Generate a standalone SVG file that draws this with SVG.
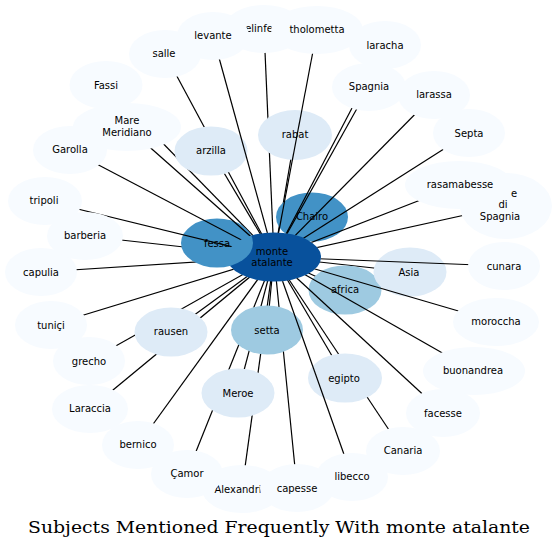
<svg xmlns="http://www.w3.org/2000/svg" width="558" height="549" viewBox="0 0 558 549">
<style>
.n0{fill:#08519c}.n1{fill:#4292c6}.n2{fill:#9ecae1}.n3{fill:#deebf7}.n4{fill:#f7fbff}
text{font-family:"DejaVu Sans","Liberation Sans",sans-serif;font-size:10px;text-anchor:middle;fill:#000}
.e line{stroke:#000;stroke-width:1.2}
.title{font-family:"DejaVu Serif","Liberation Serif",serif;font-size:17.5px}
</style>
<defs>
<mask id="m" maskUnits="userSpaceOnUse" x="0" y="0" width="558" height="549">
<rect width="558" height="549" fill="#fff"/>
<g fill="#000">
<ellipse cx="274" cy="257" rx="47" ry="24.5"/>
<ellipse cx="106" cy="85" rx="36.5" ry="24"/><ellipse cx="165" cy="54" rx="36" ry="24"/>
<ellipse cx="213" cy="36" rx="36" ry="24"/><ellipse cx="264" cy="29" rx="40" ry="24"/>
<ellipse cx="317" cy="30" rx="46" ry="24"/><ellipse cx="385" cy="45" rx="36" ry="24"/>
<ellipse cx="369" cy="87" rx="37" ry="24"/><ellipse cx="434" cy="95" rx="36" ry="24"/>
<ellipse cx="469" cy="133" rx="36" ry="24"/><ellipse cx="459" cy="185" rx="54" ry="24"/>
<ellipse cx="506" cy="206" rx="46" ry="33"/><ellipse cx="504" cy="266" rx="36" ry="24"/>
<ellipse cx="496" cy="322" rx="43" ry="24"/><ellipse cx="474" cy="371" rx="51" ry="24"/>
<ellipse cx="443" cy="413" rx="37" ry="24"/><ellipse cx="403" cy="451" rx="37" ry="24"/>
<ellipse cx="352" cy="477" rx="36" ry="24"/><ellipse cx="297" cy="488" rx="37" ry="24"/>
<ellipse cx="242" cy="489" rx="40" ry="24"/><ellipse cx="187" cy="474" rx="36" ry="24"/>
<ellipse cx="138" cy="445" rx="36" ry="24"/><ellipse cx="90" cy="409" rx="38" ry="24"/>
<ellipse cx="89" cy="361" rx="36" ry="24"/><ellipse cx="51" cy="325" rx="36" ry="24"/>
<ellipse cx="41" cy="272" rx="36" ry="24"/><ellipse cx="85" cy="236" rx="38" ry="24"/>
<ellipse cx="45" cy="201" rx="37" ry="24"/><ellipse cx="70" cy="150" rx="37" ry="24"/>
<ellipse cx="127" cy="127" rx="54" ry="24"/>
</g>
</mask>
</defs>
<rect width="558" height="549" fill="#fff"/>
<g id="connectors-under" class="e">
<line x1="274" y1="257" x2="217" y2="243"/><line x1="274" y1="257" x2="312" y2="217"/>
<line x1="274" y1="257" x2="345" y2="290"/><line x1="274" y1="257" x2="410" y2="272"/>
<line x1="274" y1="257" x2="267" y2="330"/><line x1="274" y1="257" x2="171" y2="332"/>
<line x1="274" y1="257" x2="238" y2="393"/><line x1="274" y1="257" x2="345" y2="378"/>
<line x1="274" y1="257" x2="211" y2="151"/><line x1="274" y1="257" x2="295" y2="135"/>
<line x1="274" y1="257" x2="165" y2="54"/><line x1="274" y1="257" x2="264" y2="29"/>
<line x1="274" y1="257" x2="89" y2="361"/><line x1="274" y1="257" x2="90" y2="409"/>
<line x1="274" y1="257" x2="403" y2="451"/><line x1="274" y1="257" x2="106" y2="85"/>
<line x1="274" y1="257" x2="85" y2="236"/><line x1="274" y1="257" x2="41" y2="272"/>
<line x1="274" y1="257" x2="242" y2="489"/><line x1="274" y1="257" x2="187" y2="474"/>
<line x1="274" y1="257" x2="297" y2="488"/>
</g>
<g id="n-elinfe"><ellipse class="n4" cx="264" cy="29" rx="40" ry="24"/><text x="259" y="32">elinfe</text></g>
<g id="n-levante"><ellipse class="n4" cx="213" cy="36" rx="36" ry="24"/><text x="213" y="38.5">levante</text></g>
<g id="n-tholometta"><ellipse class="n4" cx="317" cy="30" rx="46" ry="24"/><text x="317" y="32.5">tholometta</text></g>
<g id="n-salle"><ellipse class="n4" cx="165" cy="54" rx="36" ry="24"/><text x="164" y="57">salle</text></g>
<g id="n-Fassi"><ellipse class="n4" cx="106" cy="85" rx="36.5" ry="24"/><text x="106" y="88.5">Fassi</text></g>
<g id="n-laracha"><ellipse class="n4" cx="385" cy="45" rx="36" ry="24"/><text x="385" y="48.5">laracha</text></g>
<g id="n-Spagnia"><ellipse class="n4" cx="369" cy="87" rx="37" ry="24"/><text x="369" y="89.5">Spagnia</text></g>
<g id="n-larassa"><ellipse class="n4" cx="434" cy="95" rx="36" ry="24"/><text x="434" y="97.5">larassa</text></g>
<g id="n-Septa"><ellipse class="n4" cx="469" cy="133" rx="36" ry="24"/><text x="469" y="136.5">Septa</text></g>
<g id="n-e-di-Spagnia"><ellipse class="n4" cx="506" cy="206" rx="46" ry="33"/><text x="514" y="196.5">e</text><text x="503" y="207.5">di</text><text x="500" y="219.5">Spagnia</text></g>
<g id="n-rasamabesse"><ellipse class="n4" cx="459" cy="185" rx="54" ry="24"/><text x="460" y="187.5">rasamabesse</text></g>
<g id="n-cunara"><ellipse class="n4" cx="504" cy="266" rx="36" ry="24"/><text x="504" y="269.5">cunara</text></g>
<g id="n-morroccha"><ellipse class="n4" cx="496" cy="322" rx="43" ry="24"/><text x="496" y="324.5">moroccha</text></g>
<g id="n-buonandrea"><ellipse class="n4" cx="474" cy="371" rx="51" ry="24"/><text x="473" y="373.5">buonandrea</text></g>
<g id="n-facesse"><ellipse class="n4" cx="443" cy="413" rx="37" ry="24"/><text x="443" y="416.5">facesse</text></g>
<g id="n-Canaria"><ellipse class="n4" cx="403" cy="451" rx="37" ry="24"/><text x="403" y="453.5">Canaria</text></g>
<g id="n-Alexandri"><ellipse class="n4" cx="242" cy="489" rx="40" ry="24"/><text x="238" y="492.5">Alexandri</text></g>
<g id="n-capesse"><ellipse class="n4" cx="297" cy="488" rx="37" ry="24"/><text x="297" y="491.5">capesse</text></g>
<g id="n-libecco"><ellipse class="n4" cx="352" cy="477" rx="36" ry="24"/><text x="352" y="479.5">libecco</text></g>
<g id="n-Camor"><ellipse class="n4" cx="187" cy="474" rx="36" ry="24"/><text x="187" y="476.5">Çamor</text></g>
<g id="n-bernico"><ellipse class="n4" cx="138" cy="445" rx="36" ry="24"/><text x="138" y="447.5">bernico</text></g>
<g id="n-Laraccia"><ellipse class="n4" cx="90" cy="409" rx="38" ry="24"/><text x="90" y="411.5">Laraccia</text></g>
<g id="n-grecho"><ellipse class="n4" cx="89" cy="361" rx="36" ry="24"/><text x="89" y="364.5">grecho</text></g>
<g id="n-tunici"><ellipse class="n4" cx="51" cy="325" rx="36" ry="24"/><text x="51" y="328.5">tuniçi</text></g>
<g id="n-capulia"><ellipse class="n4" cx="41" cy="272" rx="36" ry="24"/><text x="41" y="275.5">capulia</text></g>
<g id="n-barberia"><ellipse class="n4" cx="85" cy="236" rx="38" ry="24"/><text x="85" y="238.5">barberia</text></g>
<g id="n-tripoli"><ellipse class="n4" cx="45" cy="201" rx="37" ry="24"/><text x="44" y="203.5">tripoli</text></g>
<g id="n-Garolla"><ellipse class="n4" cx="70" cy="150" rx="37" ry="24"/><text x="70" y="152.5">Garolla</text></g>
<g id="n-Mare-Meridiano"><ellipse class="n4" cx="127" cy="127" rx="54" ry="24"/><text x="127" y="124">Mare</text><text x="127" y="135.5">Meridiano</text></g>
<g id="n-arzilla"><ellipse class="n3" cx="211" cy="151" rx="36.5" ry="24.5"/><text x="211" y="153.5">arzilla</text></g>
<g id="n-rabat"><ellipse class="n3" cx="295" cy="135" rx="37" ry="25"/><text x="295" y="137.5">rabat</text></g>
<g id="n-Chairo"><ellipse class="n1" cx="312" cy="217" rx="36" ry="24.5"/><text x="312" y="219.5">Chairo</text></g>
<g id="n-monte-atalante"><ellipse class="n0" cx="274" cy="257" rx="47" ry="24.5"/><text x="272" y="254.5">monte</text><text x="272" y="265.5">atalante</text></g>
<g id="n-fessa"><ellipse class="n1" cx="217" cy="243" rx="36" ry="24.5"/><text x="217" y="246.5">fessa</text></g>
<g id="n-africa"><ellipse class="n2" cx="345" cy="290" rx="36.5" ry="24.5"/><text x="345" y="292.5">africa</text></g>
<g id="n-Asia"><ellipse class="n3" cx="410" cy="272" rx="36.5" ry="24.5"/><text x="409" y="275.5">Asia</text></g>
<g id="n-setta"><ellipse class="n2" cx="267" cy="330" rx="36" ry="24.5"/><text x="267" y="333.5">setta</text></g>
<g id="n-rausen"><ellipse class="n3" cx="171" cy="332" rx="36.5" ry="24.5"/><text x="171" y="334.5">rausen</text></g>
<g id="n-Meroe"><ellipse class="n3" cx="238" cy="393" rx="36.5" ry="24.5"/><text x="238" y="396.5">Meroe</text></g>
<g id="n-egipto"><ellipse class="n3" cx="345" cy="378" rx="37" ry="24.5"/><text x="344" y="381.5">egipto</text></g>
<g id="connectors-over" class="e" mask="url(#m)">
<line x1="274" y1="257" x2="213" y2="36"/><line x1="274" y1="257" x2="317" y2="30"/>
<line x1="274" y1="257" x2="385" y2="45"/><line x1="274" y1="257" x2="369" y2="87"/>
<line x1="274" y1="257" x2="434" y2="95"/><line x1="274" y1="257" x2="469" y2="133"/>
<line x1="274" y1="257" x2="459" y2="185"/><line x1="274" y1="257" x2="506" y2="206"/>
<line x1="274" y1="257" x2="504" y2="266"/><line x1="274" y1="257" x2="496" y2="322"/>
<line x1="274" y1="257" x2="474" y2="371"/><line x1="274" y1="257" x2="443" y2="413"/>
<line x1="274" y1="257" x2="352" y2="477"/><line x1="274" y1="257" x2="138" y2="445"/>
<line x1="274" y1="257" x2="51" y2="325"/><line x1="274" y1="257" x2="45" y2="201"/>
<line x1="274" y1="257" x2="70" y2="150"/><line x1="274" y1="257" x2="127" y2="127"/>
</g>
<text class="title" x="279" y="533" textLength="502" lengthAdjust="spacingAndGlyphs">Subjects Mentioned Frequently With monte atalante</text>
</svg>
